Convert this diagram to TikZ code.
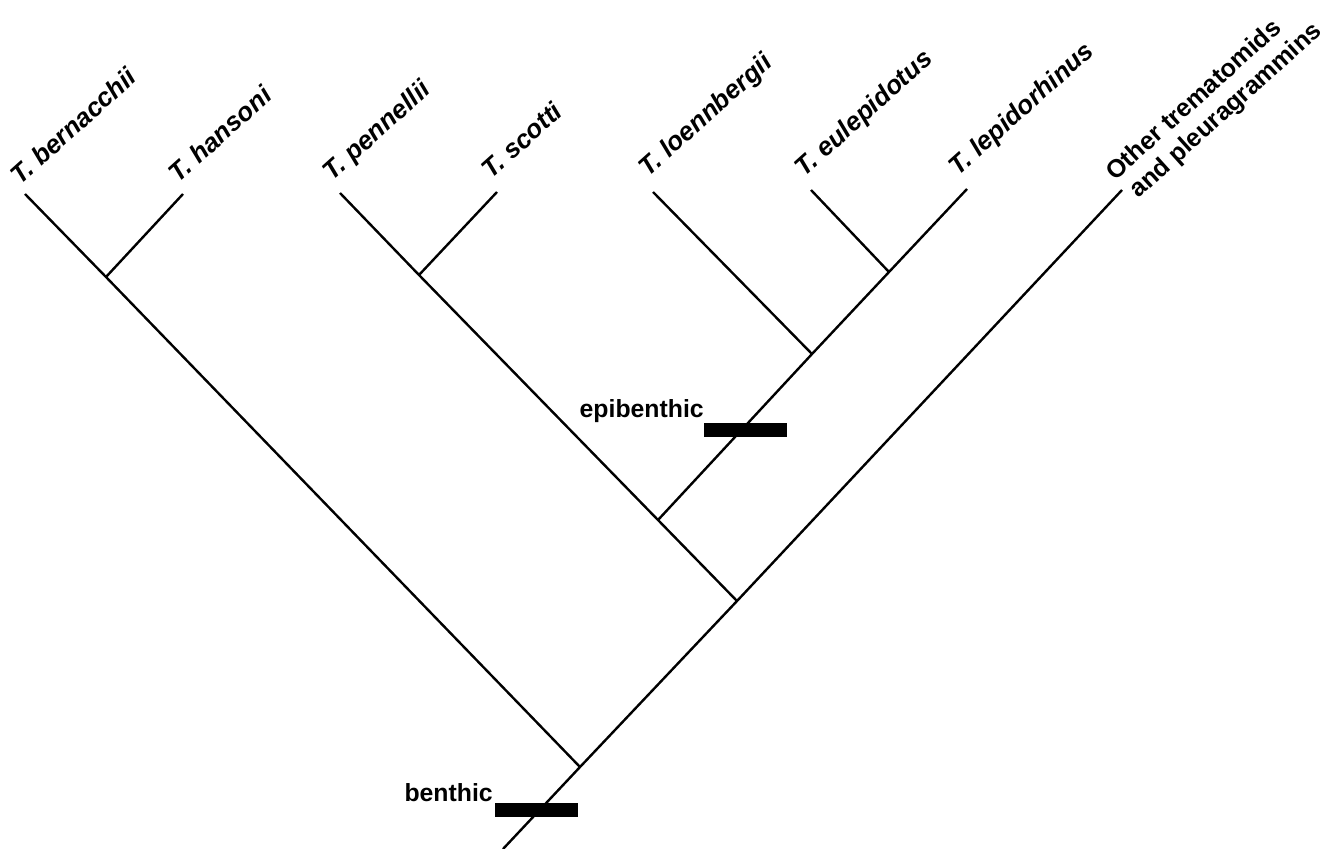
\documentclass[tikz,border=0pt]{standalone}
\usepackage{fontspec}
\setmainfont{Liberation Sans}
\usetikzlibrary{positioning,calc}
\tikzset{
  branch/.style={line width=1.2pt, draw=black},
  taxon/.style={anchor=base west, rotate=42, inner sep=0pt, align=left,
                font=\fontsize{13}{14.7}\selectfont\bfseries\itshape},
  habit/.style={anchor=base east, inner sep=0pt, font=\fontsize{12.4}{14}\selectfont\bfseries},
  bar/.style={rectangle, fill=black, inner sep=0pt, minimum width=41.5pt, minimum height=7pt},
}

\begin{document}
\begin{tikzpicture}[x=0.5pt, y=-0.5pt]
  \useasboundingbox (0,0) rectangle (1336,849);
  \coordinate (bern) at (25,194);
  \coordinate (hans) at (183,194);
  \coordinate (penn) at (340,193);
  \coordinate (scot) at (497,192);
  \coordinate (loen) at (653,192);
  \coordinate (eule) at (811,190);
  \coordinate (lepi) at (967,189);
  \coordinate (other) at (1122,190);
  \coordinate (nHans) at (106,277);
  \coordinate (nScot) at (419,275);
  \coordinate (nEule) at (889,272);
  \coordinate (nLoen) at (812,354);
  \coordinate (nEpi) at (658,520);
  \coordinate (nPenn) at (737,601);
  \coordinate (nBern) at (580,767);
  \coordinate (root) at (503,849);
  \draw[branch] (root) -- (nBern) -- (nPenn) -- (other);
  \draw[branch] (nBern) -- (nHans) -- (bern);
  \draw[branch] (nHans) -- (hans);
  \draw[branch] (nPenn) -- (nEpi) -- (nScot) -- (penn);
  \draw[branch] (nScot) -- (scot);
  \draw[branch] (nEpi) -- (nLoen) -- (nEule) -- (lepi);
  \draw[branch] (nLoen) -- (loen);
  \draw[branch] (nEule) -- (eule);
  \node[taxon] (lbern) at ($(bern)+(-5,-8)$) {T. bernacchii};
  \node[taxon] (lhans) at ($(hans)+(-5,-10)$) {T. hansoni};
  \node[taxon] (lpenn) at ($(penn)+(-8,-11)$) {T. pennellii};
  \node[taxon] (lscot) at ($(scot)+(-6,-12)$) {T. scotti};
  \node[taxon] (lloen) at ($(loen)+(-5,-14)$) {T. loennbergii};
  \node[taxon] (leule) at ($(eule)+(-7,-12)$) {T. eulepidotus};
  \node[taxon] (llepi) at ($(lepi)+(-9,-12)$) {T. lepidorhinus};
  \node[taxon, font=\fontsize{12.6}{14.4}\selectfont\bfseries] (lother) at ($(other)+(12,13)$)
    {Other trematomids\\\hspace*{3pt}and pleuragrammins};
  \node[bar] (epibar) at (745,430) {};
  \node[bar] (benbar) at (536,810) {};
  \node[habit] (lepib) at ($(epibar.north west)+(1,-5)$) {epibenthic};
  \node[habit] (lbent) at ($(benbar.north west)+(-1,-1)$) {benthic};
\end{tikzpicture}
\end{document}
